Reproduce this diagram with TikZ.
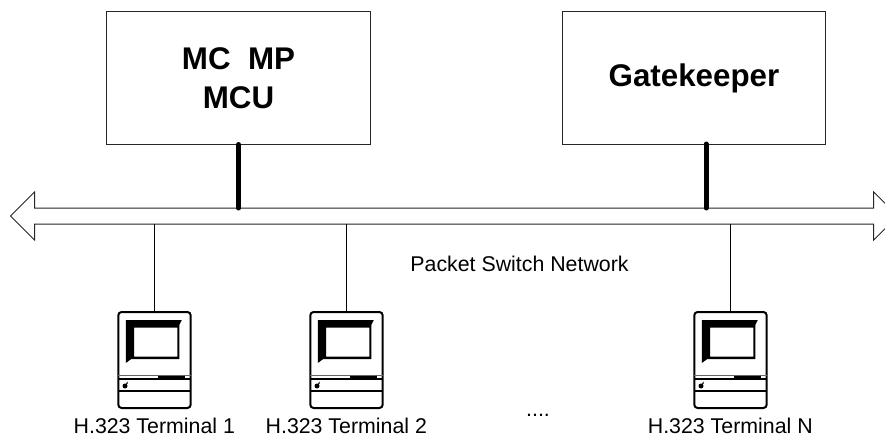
\documentclass[tikz,border=0pt]{standalone}
\usepackage{fontspec}
\setmainfont{Liberation Sans}
\tikzset{
  serverbox/.style={draw=black!85,line width=0.75pt,minimum width=197.5pt,minimum height=99pt,inner sep=0pt,align=center,font=\fontsize{23.5}{29}\selectfont\bfseries},
  termbox/.style={minimum width=54.3pt,minimum height=72pt,inner sep=0pt},
  termlabel/.style={inner sep=0pt,anchor=base,font=\fontsize{16}{18}\selectfont},
  stub/.style={line width=3.75pt,line cap=round},
  tap/.style={line width=0.75pt}
}
\begin{document}
\begin{tikzpicture}[x=0.75pt,y=-0.75pt]
    \useasboundingbox (0,0) rectangle (885,435);

    \node[serverbox] (mcbox) at (238.5,78) {MC\ \ MP\\MCU};
    \node[serverbox] (gkbox) at (694,78) {Gatekeeper};

    % double headed bus
    \draw[line width=0.75pt,draw=black!85] (34.5,208)--(873.7,208)--(873.7,192)--(897.7,216)--(873.7,240)--(873.7,224)--(34.5,224)--(34.5,240)--(10.5,216)--(34.5,192)--cycle;
    \coordinate (bustop) at (0,208);
    \coordinate (busbot) at (0,224);
    \coordinate (gkstub) at (706,144);

    \draw[stub] (mcbox.south) -- (mcbox.south |- bustop);
    \draw[stub] (gkstub) -- (gkstub |- bustop);

    \node[termlabel] (netlabel) at (519.5,271) {Packet Switch Network};

    \foreach \n/\x/\txt in {1/118.3/H.323 Terminal 1,2/310.3/H.323 Terminal 2,3/694.3/H.323 Terminal N} {
      \node[termbox,anchor=north west] (term\n) at (\x,312) {};
      \draw[tap] (term\n.north |- busbot) -- (term\n.north);
      \begin{scope}[shift={(\x,312)}]
        \draw[line width=1.5pt,rounded corners=2.5] (0,96)--(0,0)--(72.4,0)--(72.4,96)--cycle;
        \fill[even odd rule] (7.5,8)--(63.5,8)--(61,13)--(61,47)--(13,47)--(7.5,51)--cycle (15.7,15.5)--(59,15.5)--(59,44.5)--(15.7,44.5)--cycle;
        \draw[line width=0.5pt,draw=black!60] (0,63.7)--(72.4,63.7);
        \fill (40,63.7) rectangle (66.7,67);
        \draw[line width=1pt] (0,67)--(72.4,67);
        \draw[line width=1.25pt] (0,79.3)--(72.4,79.3);
        \fill (6.7,74) circle (2.5);
        \fill (7.5,71.5) -- (9.5,69.5) -- (9.2,72) -- cycle;
      \end{scope}
      \node[termlabel] (label\n) at (\x+36,433) {\txt};
    }
    \node[termlabel] (dots) at (538,416.5) {....};
\end{tikzpicture}
\end{document}
